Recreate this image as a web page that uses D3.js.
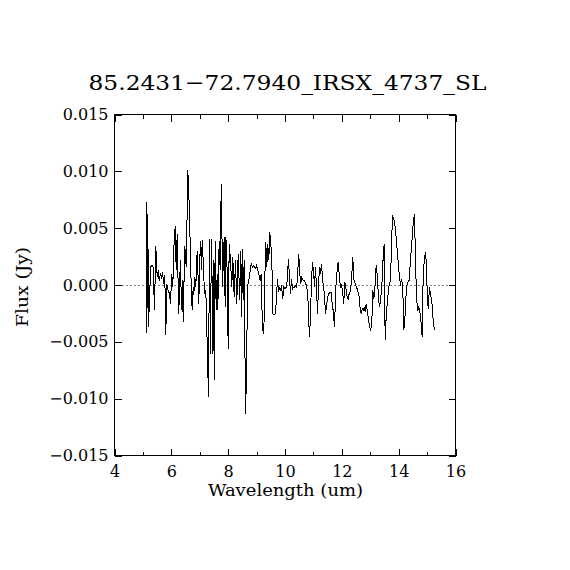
<!DOCTYPE html>
<html>
<head>
<meta charset="utf-8">
<script src="https://cdn.jsdelivr.net/npm/d3@7"></script>
<style>
  body { margin: 0; background: #fff; }
  svg { display: block; }
  text { font-family: "DejaVu Serif", serif; fill: #000; }
</style>
</head>
<body>
<script>
var title = "85.2431\u221272.7940_IRSX_4737_SL";
var xLabel = "Wavelength (um)";
var yLabel = "Flux (Jy)";

var xMajor = [4, 6, 8, 10, 12, 14, 16];
var xMinor = [5, 7, 9, 11, 13, 15];
var yMajor = [-0.015, -0.010, -0.005, 0.000, 0.005, 0.010, 0.015];

// wavelength (um)
var wavelength = [
  5.126, 5.137, 5.172, 5.196, 5.242, 5.277, 5.327, 5.362, 5.407, 5.453,
  5.502, 5.538, 5.573, 5.619, 5.654, 5.689, 5.735, 5.770, 5.805, 5.840,
  5.889, 5.935, 5.970, 6.016, 6.051, 6.087, 6.136, 6.171, 6.206, 6.241,
  6.262, 6.298, 6.322, 6.357, 6.393, 6.417, 6.452, 6.474, 6.523, 6.558,
  6.579, 6.614, 6.650, 6.674, 6.709, 6.734, 6.769, 6.790, 6.826, 6.861,
  6.910, 6.945, 6.966, 7.001, 7.026, 7.061, 7.086, 7.121, 7.167, 7.213,
  7.262, 7.307, 7.343, 7.378, 7.403, 7.424, 7.448, 7.483, 7.508, 7.543,
  7.578, 7.614, 7.635, 7.684, 7.719, 7.740, 7.765, 7.800, 7.835, 7.860,
  7.895, 7.916, 7.951, 8.001, 8.036, 8.082, 8.127, 8.163, 8.212, 8.258,
  8.303, 8.352, 8.409, 8.433, 8.469, 8.493, 8.528, 8.564, 8.609, 8.645,
  8.680, 8.726, 8.761, 8.810, 8.856, 8.901, 8.951, 8.996, 9.042, 9.091,
  9.127, 9.162, 9.197, 9.232, 9.267, 9.303, 9.324, 9.359, 9.394, 9.429,
  9.464, 9.500, 9.535, 9.570, 9.619, 9.665, 9.700, 9.735, 9.771, 9.806,
  9.841, 9.876, 9.922, 9.957, 9.992, 10.042, 10.077, 10.122, 10.158, 10.193,
  10.228, 10.263, 10.298, 10.334, 10.379, 10.414, 10.450, 10.485, 10.520, 10.555,
  10.590, 10.640, 10.685, 10.731, 10.766, 10.801, 10.826, 10.861, 10.897, 10.932,
  10.967, 11.002, 11.037, 11.073, 11.108, 11.143, 11.178, 11.213, 11.248, 11.284,
  11.319, 11.354, 11.389, 11.424, 11.459, 11.495, 11.540, 11.590, 11.625, 11.660,
  11.695, 11.741, 11.794, 11.836, 11.871, 11.906, 11.952, 11.987, 12.023, 12.068,
  12.103, 12.139, 12.188, 12.223, 12.258, 12.304, 12.339, 12.385, 12.420, 12.469,
  12.515, 12.561, 12.610, 12.645, 12.681, 12.716, 12.751, 12.786, 12.821, 12.856,
  12.892, 12.927, 12.962, 13.008, 13.054, 13.089, 13.124, 13.159, 13.208, 13.243,
  13.289, 13.324, 13.360, 13.405, 13.455, 13.490, 13.525, 13.560, 13.606, 13.652,
  13.711, 13.747, 13.782, 13.828, 13.877, 13.922, 13.968, 14.017, 14.063, 14.098,
  14.144, 14.179, 14.229, 14.274, 14.320, 14.369, 14.415, 14.461, 14.510, 14.556,
  14.591, 14.626, 14.672, 14.707, 14.742, 14.792, 14.827, 14.862, 14.908, 14.954,
  15.003, 15.038, 15.084, 15.119, 15.165, 15.214, 15.260
];

// flux (Jy)
var flux = [
  0.00728, -0.00424, 0.00626, -0.00371, -0.00048, 0.00163, 0.00172, 0.00157, -0.00224, 0.00347,
  0.00069, 0.00128, 0.00040, 0.00101, 0.00057, 0.00113, 0.00011, 0.00084, -0.00444, 0.00011,
  -0.00048, -0.00077, -0.00165, 0.00099, -0.00019, 0.00318, 0.00523, 0.00128, 0.00450, -0.00019,
  -0.00253, 0.00069, 0.00216, -0.00224, 0.00040, -0.00327, 0.00099, 0.00347, 0.00157, 0.00655,
  0.01013, 0.00816, 0.00508, 0.00216, -0.00077, -0.00224, -0.00019, -0.00092, 0.00069, -0.00019,
  0.00303, 0.00040, -0.00165, 0.00216, 0.00391, 0.00128, 0.00400, 0.00216, -0.00077, -0.00048,
  -0.00517, -0.00987, 0.00406, -0.00605, 0.00216, 0.00406, -0.00605, 0.00216, -0.00840, 0.00391,
  -0.00224, 0.00099, -0.00224, 0.00391, 0.00128, 0.00655, 0.00890, -0.00019, 0.00245, 0.00420,
  -0.00195, 0.00420, 0.00303, -0.00561, 0.00362, 0.00216, -0.00019, 0.00245, -0.00107, 0.00216,
  -0.00165, 0.00274, -0.00136, 0.00303, -0.00283, 0.00318, -0.00136, 0.00216, -0.01133, -0.00811,
  -0.00019, 0.00040, 0.00099, 0.00186, 0.00157, 0.00172, 0.00143, 0.00172, 0.00128, 0.00084,
  0.00040, 0.00099, -0.00283, -0.00429, -0.00312, 0.00216, 0.00377, 0.00157, 0.00362, 0.00216,
  0.00464, 0.00362, 0.00245, -0.00253, -0.00262, -0.00253, -0.00107, 0.00055, -0.00063, -0.00019,
  -0.00048, -0.00004, -0.00121, -0.00019, -0.00033, -0.00019, 0.00040, 0.00230, 0.00069, -0.00077,
  0.00055, -0.00033, -0.00019, -0.00019, -0.00004, -0.00019, 0.00128, 0.00274, 0.00099, 0.00011,
  0.00069, 0.00040, 0.00040, 0.00011, -0.00019, -0.00077, -0.00253, -0.00459, -0.00283, 0.00040,
  0.00201, 0.00128, -0.00019, 0.00157, -0.00019, -0.00253, -0.00019, 0.00157, 0.00099, 0.00186,
  0.00069, -0.00019, -0.00077, -0.00253, -0.00195, -0.00107, -0.00077, -0.00063, -0.00063, -0.00165,
  -0.00224, -0.00365, -0.00004, 0.00128, 0.00201, 0.00099, -0.00019, -0.00004, -0.00048, -0.00165,
  0.00025, -0.00019, -0.00107, -0.00121, -0.00077, -0.00048, 0.00040, 0.00245, 0.00055, 0.00011,
  -0.00019, -0.00048, -0.00107, -0.00209, -0.00253, -0.00209, -0.00224, -0.00195, -0.00239, -0.00165,
  -0.00224, -0.00283, -0.00341, -0.00400, -0.00341, -0.00048, -0.00121, -0.00048, 0.00172, 0.00099,
  -0.00107, -0.00195, -0.00136, -0.00019, 0.00245, 0.00362, -0.00488, -0.00283, -0.00136, -0.00019,
  0.00040, 0.00333, 0.00611, 0.00582, 0.00508, 0.00391, 0.00245, 0.00099, -0.00004, 0.00055,
  -0.00019, -0.00400, -0.00253, -0.00019, 0.00025, 0.00040, 0.00216, 0.00362, 0.00538, 0.00626,
  0.00245, -0.00107, -0.00224, -0.00195, -0.00224, -0.00341, -0.00459, 0.00069, 0.00245, 0.00289,
  -0.00048, -0.00209, -0.00019, -0.00077, -0.00136, -0.00312, -0.00400
];

var w = 570;
var h = 570;
var plotLeft = 114.5, plotRight = 455.5, plotTop = 114.5, plotBottom = 455.5;

var svg = d3.select("body")
    .append("svg")
    .attr("width", w)
    .attr("height", h);

svg.append("rect")
    .attr("width", w)
    .attr("height", h)
    .attr("fill", "#fff");

var x = d3.scaleLinear().domain([4, 16]).range([plotLeft, plotRight]);
var y = d3.scaleLinear().domain([-0.015, 0.015]).range([plotBottom, plotTop]);

// zero line
svg.append("line")
    .attr("x1", plotLeft).attr("x2", plotRight)
    .attr("y1", Math.round(y(0)) + 0.5).attr("y2", Math.round(y(0)) + 0.5)
    .attr("stroke", "#000")
    .attr("stroke-width", 1)
    .attr("stroke-dasharray", "1,3");

// spectrum
var points = wavelength.map(function(d, i) { return [d, flux[i]]; });
svg.append("path")
    .datum(points)
    .attr("fill", "none")
    .attr("stroke", "#000")
    .attr("stroke-width", 1)
    .attr("shape-rendering", "crispEdges")
    .attr("d", d3.line()
        .x(function(d) { return x(d[0]); })
        .y(function(d) { return y(d[1]); }));

// frame
svg.append("rect")
    .attr("x", plotLeft).attr("y", plotTop)
    .attr("width", plotRight - plotLeft).attr("height", plotBottom - plotTop)
    .attr("fill", "none")
    .attr("stroke", "#000")
    .attr("stroke-width", 1)
    .attr("shape-rendering", "crispEdges");

function styleAxis(g) {
  g.select(".domain").remove();
  g.selectAll(".tick line").attr("stroke", "#000").attr("shape-rendering", "crispEdges");
  g.selectAll("text").attr("font-family", "DejaVu Serif, serif").attr("font-size", "16px").attr("fill", "#000");
}

// bottom
svg.append("g")
    .attr("transform", "translate(0," + plotBottom + ")")
    .call(d3.axisBottom(x).tickValues(xMajor).tickFormat(d3.format("d"))
        .tickSizeInner(-7).tickSizeOuter(0).tickPadding(10))
    .call(styleAxis);
svg.append("g")
    .attr("transform", "translate(0," + plotBottom + ")")
    .call(d3.axisBottom(x).tickValues(xMinor).tickFormat("").tickSizeInner(-4).tickSizeOuter(0))
    .call(styleAxis);

// top
svg.append("g")
    .attr("transform", "translate(0," + plotTop + ")")
    .call(d3.axisTop(x).tickValues(xMajor).tickFormat("").tickSizeInner(-7).tickSizeOuter(0))
    .call(styleAxis);
svg.append("g")
    .attr("transform", "translate(0," + plotTop + ")")
    .call(d3.axisTop(x).tickValues(xMinor).tickFormat("").tickSizeInner(-4).tickSizeOuter(0))
    .call(styleAxis);

// left
svg.append("g")
    .attr("transform", "translate(" + plotLeft + ",0)")
    .call(d3.axisLeft(y).tickValues(yMajor).tickFormat(d3.format(".3f"))
        .tickSizeInner(-7).tickSizeOuter(0).tickPadding(6))
    .call(styleAxis);

// right
svg.append("g")
    .attr("transform", "translate(" + plotRight + ",0)")
    .call(d3.axisRight(y).tickValues(yMajor).tickFormat("").tickSizeInner(-7).tickSizeOuter(0))
    .call(styleAxis);

// titles
svg.append("text")
    .text(title)
    .attr("x", 287.5)
    .attr("y", 90)
    .attr("text-anchor", "middle")
    .attr("font-size", "21px")
    .attr("textLength", 398)
    .attr("lengthAdjust", "spacingAndGlyphs");

svg.append("text")
    .text(xLabel)
    .attr("x", 285.5)
    .attr("y", 496)
    .attr("text-anchor", "middle")
    .attr("font-size", "16px")
    .attr("textLength", 155)
    .attr("lengthAdjust", "spacingAndGlyphs");

svg.append("text")
    .text(yLabel)
    .attr("transform", "translate(28,287) rotate(-90)")
    .attr("text-anchor", "middle")
    .attr("font-size", "16px")
    .attr("textLength", 80)
    .attr("lengthAdjust", "spacingAndGlyphs");
</script>
</body>
</html>
